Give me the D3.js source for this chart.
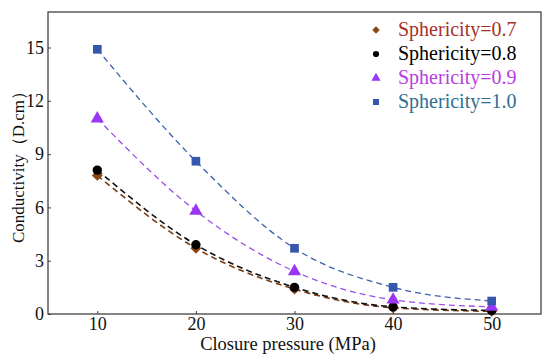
<!DOCTYPE html>
<html>
<head>
<meta charset="utf-8">
<script src="https://d3js.org/d3.v7.min.js"></script>
<style>
  body { margin: 0; background: #fff; }
</style>
</head>
<body>
<main></main>
<script>
// closure pressure (MPa)
var pressure = [10, 20, 30, 40, 50];
var labels = ['Sphericity=0.7', 'Sphericity=0.8', 'Sphericity=0.9', 'Sphericity=1.0'];
var s07 = [7.8, 3.7, 1.4, 0.35, 0.15];
var s08 = [8.1, 3.9, 1.5, 0.4, 0.2];
var s09 = [11.0, 5.8, 2.4, 0.8, 0.4];
var s10 = [14.9, 8.6, 3.7, 1.5, 0.73];
var xTicks = [10, 20, 30, 40, 50];
var yTicks = [0, 3, 6, 9, 12, 15];

!function(){
    var w = 550, h = 361;
    var m = {top: 12, right: 9, bottom: 47, left: 48};
    var font = '"Liberation Serif", "Times New Roman", serif';

    var svg = d3.select('main').append('svg')
        .attr('width', w)
        .attr('height', h)
        .attr('font-family', font);

    var x = d3.scaleLinear().domain([5, 55]).range([m.left, w - m.right]);
    var y = d3.scaleLinear().domain([0, 17]).range([h - m.bottom, m.top]);

    var series = [
        {name: labels[0], vals: s07, line: '#7a3a12', mark: '#8b4513', text: '#a8302a', sym: d3.symbolDiamond2, lw: 1.6},
        {name: labels[1], vals: s08, line: '#111', mark: '#000', text: '#000', sym: d3.symbolCircle, lw: 1.6},
        {name: labels[2], vals: s09, line: '#9a4de8', mark: '#9b35f5', text: '#b83ce0', sym: d3.symbolTriangle, lw: 1.3},
        {name: labels[3], vals: s10, line: '#3a62a8', mark: '#3657ad', text: '#2e6e8e', sym: d3.symbolSquare, lw: 1.3}
    ];

    // axes
    var xAxis = d3.axisBottom(x).tickValues(xTicks).tickSize(-3).tickPadding(3);
    var yAxis = d3.axisLeft(y).tickValues(yTicks).tickSize(-3).tickPadding(4);

    var gx = svg.append('g')
        .attr('transform', 'translate(0,' + (h - m.bottom) + ')')
        .call(xAxis);
    var gy = svg.append('g')
        .attr('transform', 'translate(' + m.left + ',0)')
        .call(yAxis);

    [gx, gy].forEach(function(g){
        g.attr('font-family', font).attr('font-size', 18);
        g.select('.domain').remove();
        g.selectAll('line').attr('stroke', '#444');
        g.selectAll('text').attr('fill', '#111');
    });

    svg.append('rect')
        .attr('x', m.left).attr('y', m.top)
        .attr('width', w - m.left - m.right)
        .attr('height', h - m.top - m.bottom)
        .attr('fill', 'none')
        .attr('stroke', '#333')
        .attr('stroke-width', 1.2);

    svg.append('text')
        .attr('x', 288)
        .attr('y', 350)
        .attr('text-anchor', 'middle')
        .attr('font-size', 18.5)
        .attr('fill', '#111')
        .text('Closure pressure (MPa)');

    svg.append('text')
        .attr('transform', 'translate(24,163) rotate(-90)')
        .attr('text-anchor', 'middle')
        .attr('font-size', 17)
        .attr('fill', '#111')
        .text('Conductivity（D.cm）');

    var line = d3.line()
        .x(function(d, i){ return x(pressure[i]); })
        .y(function(d){ return y(d); })
        .curve(d3.curveMonotoneX);

    series.forEach(function(s){
        svg.append('path')
            .attr('d', line(s.vals))
            .attr('fill', 'none')
            .attr('stroke', s.line)
            .attr('stroke-width', s.lw)
            .attr('stroke-dasharray', '6,4');
    });

    series.forEach(function(s){
        svg.append('g').selectAll('path')
            .data(s.vals)
            .join('path')
            .attr('transform', function(d, i){ return 'translate(' + x(pressure[i]) + ',' + y(d) + ')'; })
            .attr('d', d3.symbol().type(s.sym).size(s.sym === d3.symbolCircle ? 70 : 75))
            .attr('fill', s.mark);
    });

    // legend
    var lg = svg.append('g').attr('transform', 'translate(376,30)');
    series.forEach(function(s, i){
        var row = lg.append('g').attr('transform', 'translate(0,' + (i * 24) + ')');
        row.append('path')
            .attr('d', d3.symbol().type(s.sym).size(s.sym === d3.symbolCircle ? 30 : 36))
            .attr('fill', s.mark);
        row.append('text')
            .attr('x', 22)
            .attr('y', 6)
            .attr('font-size', 20)
            .attr('fill', s.text)
            .text(s.name);
    });
}();
</script>
</body>
</html>
